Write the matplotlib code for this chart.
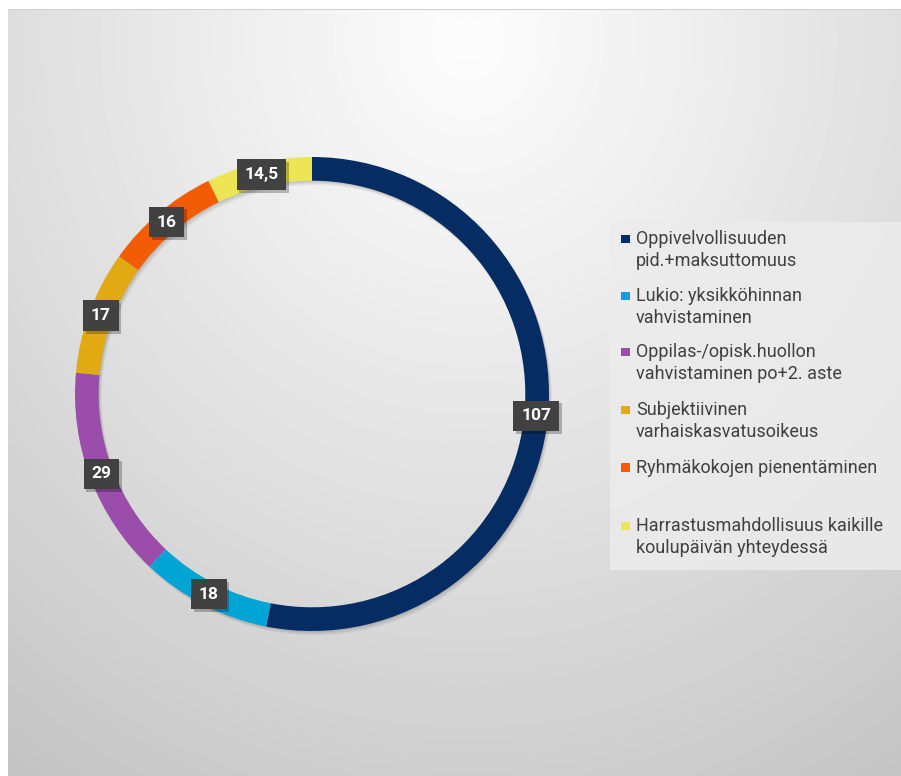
import numpy as np
import matplotlib
matplotlib.use("Agg")
import matplotlib.pyplot as plt
from matplotlib.patches import Rectangle
import matplotlib.patheffects as pe

categories = [
    "Oppivelvollisuuden\npid.+maksuttomuus",
    "Lukio: yksikköhinnan\nvahvistaminen",
    "Oppilas-/opisk.huollon\nvahvistaminen po+2. aste",
    "Subjektiivinen\nvarhaiskasvatusoikeus",
    "Ryhmäkokojen pienentäminen",
    "Harrastusmahdollisuus kaikille\nkoulupäivän yhteydessä",
]
values = [107, 18, 29, 17, 16, 14.5]
value_labels = ["107", "18", "29", "17", "16", "14,5"]
colors = ["#062D63", "#00A5D5", "#9A4DAA", "#E2AA12", "#F25C05", "#EDE553"]

W, H = 901, 776
fig = plt.figure(figsize=(W / 100, H / 100), dpi=100)
fig.patch.set_facecolor("white")

# background gradient panel
bg = fig.add_axes([8 / W, 0, 1 - 8 / W, 1 - 9 / H], zorder=0)
yy, xx = np.mgrid[0:767, 0:893]
cx, cy = 460, 30
d = np.sqrt(((xx - cx) / 1.0) ** 2 + ((yy - cy) / 1.1) ** 2) / 850.0
val = 252 - 60 * np.clip(d, 0, 1.2) ** 1.1
img = np.clip(val, 0, 255) / 255.0
bg.imshow(img, cmap="gray", vmin=0, vmax=1, aspect="auto", interpolation="bilinear")
bg.set_axis_off()
fig.add_artist(Rectangle((8 / W, 1 - 10 / H), 1 - 8 / W, 1.5 / H, transform=fig.transFigure,
                         facecolor="#d0d0d0", edgecolor="none", zorder=1))

# donut
cxp, cyp, R = 312, 394, 237
ax = fig.add_axes([(cxp - R * 1.05) / W, (H - cyp - R * 1.05) / H, 2.1 * R / W, 2.1 * R / H],
                  zorder=2)
ax.set_facecolor("none")
width = 0.1
for k, a in [(0.012, 0.05), (0.008, 0.06), (0.004, 0.07)]:
    ax.pie(values, radius=1.0, startangle=90, counterclock=False, center=(k, -k * 1.5),
           colors=["#000000"] * len(values),
           wedgeprops=dict(width=width, edgecolor="none", alpha=a))
wedges, _ = ax.pie(values, radius=1.0, startangle=90, counterclock=False,
                   colors=colors, wedgeprops=dict(width=width, edgecolor="none"))
ax.set_xlim(-1.05, 1.05)
ax.set_ylim(-1.05, 1.05)
ax.set_aspect("equal")
ax.set_axis_off()

total = sum(values)
cum = 0
for v, lab in zip(values, value_labels):
    mid = (cum + v / 2) / total * 2 * np.pi
    cum += v
    r = 1 - width / 2
    x, y = r * np.sin(mid), r * np.cos(mid)
    t = ax.text(x, y, lab, ha="center", va="center", fontsize=12.5, fontweight="bold",
                family="Roboto", color="white",
                bbox=dict(boxstyle="square,pad=0.45", fc="#414141", ec="none"), zorder=5)
    t.get_bbox_patch().set_path_effects([
        pe.SimplePatchShadow(offset=(2, -2), shadow_rgbFace="black", alpha=0.25),
        pe.Normal()])

# legend (manual)
fig.add_artist(Rectangle((610 / W, 1 - 570 / H), (W - 610) / W, (570 - 222) / H,
                         transform=fig.transFigure, facecolor="#ececec", edgecolor="none",
                         alpha=0.85, zorder=3))
baselines = [244, 301, 357, 415, 473, 531]
line_gap = 22
for lab, c, bl in zip(categories, colors, baselines):
    fig.add_artist(Rectangle((621 / W, 1 - (bl - 1) / H), 8.5 / W, 8.5 / H,
                             transform=fig.transFigure, facecolor=c, edgecolor="none", zorder=4))
    for i, line in enumerate(lab.split("\n")):
        fig.text(636 / W, 1 - (bl + i * line_gap) / H, line, ha="left", va="baseline",
                 fontsize=13, family="Roboto", color="#404040", zorder=5)

fig.savefig("out.png", dpi=100)
